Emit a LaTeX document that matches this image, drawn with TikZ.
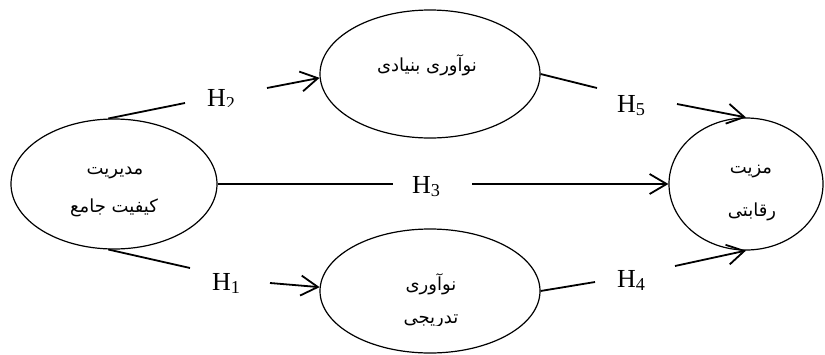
\documentclass[tikz,border=0pt]{standalone}
\usepackage{fontspec}
\setmainfont{Liberation Serif}
\newfontfamily\fafont[Script=Arabic]{DejaVu Sans}
\TeXXeTstate=1
\usetikzlibrary{shapes.geometric,arrows.meta}
\begin{document}
\begin{tikzpicture}[x=1pt,y=-1pt,
  oval/.style={draw, ellipse, line width=1.2pt, inner sep=0pt},
  link/.style={line width=1.8pt},
  arr/.style={line width=1.8pt, -{Straight Barb[length=17pt,width=20pt]}},
  hlab/.style={anchor=base west, inner sep=0pt, font=\fontsize{26}{26}\selectfont},
  fa/.style={inner sep=0pt, font=\fafont\fontsize{18}{18}\selectfont}]
\useasboundingbox (0,0) rectangle (825,354);
% ellipses
\node[oval, minimum width=206pt, minimum height=130pt] (L) at (114,184) {};
\node[oval, minimum width=220pt, minimum height=128pt] (T) at (430,74) {};
\node[oval, minimum width=220pt, minimum height=124pt] (B) at (430,291) {};
\node[oval, minimum width=154pt, minimum height=132pt] (R) at (746,184) {};
% texts
\node[fa] (tL1) at (115,173) {\beginR مدیریت\endR};
\node[fa] (tL2) at (114,208) {\beginR کیفیت جامع\endR};
\node[fa] (tT) at (427,65) {\beginR نوآوری بنیادی\endR};
\node[fa] (tB1) at (431,284) {\beginR نوآوری\endR};
\begin{scope}
\clip (370,300) rectangle (490,325.5);
\node[fa] (tB2) at (431,321) {\beginR تدریجی\endR};
\end{scope}
\node[fa] (tR1) at (751,172) {\beginR مزیت\endR};
\node[fa] (tR2) at (752,212) {\beginR رقابتی\endR};
% hypothesis labels
\begin{scope}
\clip (190,80) rectangle (260,106.5);
\node[hlab] (h2) at (207,106) {H\textsubscript{2}};
\end{scope}
\node[hlab] (h5) at (617,112) {H\textsubscript{5}};
\node[hlab] (h3) at (412,193) {H\textsubscript{3}};
\node[hlab] (h1) at (212,290) {H\textsubscript{1}};
\node[hlab] (h4) at (617,287) {H\textsubscript{4}};
% free ends
\coordinate (e2) at (185,103);
\coordinate (s2) at (267,88);
\coordinate (e5) at (597,88);
\coordinate (s5) at (677,104);
\coordinate (e3) at (393,184);
\coordinate (s3) at (472,184);
\coordinate (e1) at (190,268);
\coordinate (s1) at (270,283);
\coordinate (e4) at (595,282);
\coordinate (s4) at (675,266);
% connectors
\draw[link] (L.95) -- (e2);
\draw[arr] (s2) -- (T.182);
\draw[link] (T.east) -- (e5);
\draw[arr] (s5) -- (R.north);
\draw[link] (L.east) -- (e3);
\draw[arr] (s3) -- (R.west);
\draw[link] (L.265) -- (e1);
\draw[arr] (s1) -- (B.178);
\draw[link] (B.east) -- (e4);
\draw[arr] (s4) -- (R.south);
\end{tikzpicture}
\end{document}
